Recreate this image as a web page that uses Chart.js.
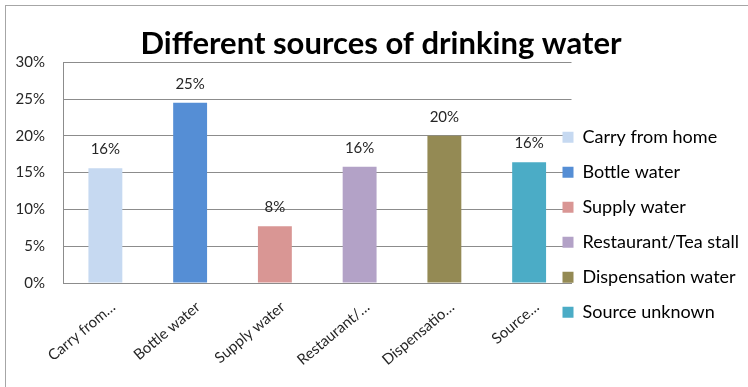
<!DOCTYPE html>
<html>
<head>
<meta charset="utf-8">
<script src="https://cdn.jsdelivr.net/npm/chart.js@4"></script>
<style>
  html, body { margin: 0; padding: 0; background: #fff; overflow: hidden; }
  #wrap { position: relative; width: 748px; height: 387px; overflow: hidden; }
  #frame { position: absolute; left: 5px; top: 5px; width: 800px; height: 400px; border: 1px solid #a6a6a6; }
  canvas { position: absolute; left: 0; top: 0; }
</style>
</head>
<body>
<div id="wrap">
  <div id="frame"></div>
  <canvas id="c" width="748" height="387"></canvas>
</div>
<script>
// Sources of drinking water, share of respondents (%)
const categories = ["Carry from home", "Bottle water", "Supply water", "Restaurant/Tea stall", "Dispensation water", "Source unknown"];
const tickLabels = ["Carry from\u2026", "Bottle water", "Supply water", "Restaurant/\u2026", "Dispensatio\u2026", "Source\u2026"];
const shares = [15.6, 24.5, 7.7, 15.8, 20.0, 16.4];
const barColors = ["#C6D9F1", "#558ED5", "#D99694", "#B3A2C7", "#948A54", "#4BACC6"];

Chart.defaults.font.family = "Lato, 'Open Sans', sans-serif";
Chart.defaults.color = "#262626";

// value labels above each bar
const valueLabels = {
  id: "valueLabels",
  afterDatasetsDraw(chart) {
    const ctx = chart.ctx;
    const meta = chart.getDatasetMeta(0);
    ctx.save();
    ctx.font = "15px Lato, 'Open Sans', sans-serif";
    ctx.fillStyle = "#262626";
    ctx.textAlign = "center";
    ctx.textBaseline = "middle";
    meta.data.forEach((bar, i) => {
      ctx.fillText(Math.round(shares[i]) + "%", bar.x, bar.y - 19);
    });
    ctx.restore();
  }
};

// legend keys overlap the plot's right edge a little; list starts lower down
const legendPlace = {
  id: "legendPlace",
  afterLayout(chart) {
    const lg = chart.legend;
    if (!lg) return;
    lg.left = chart.chartArea.right - 26;
    lg.top = chart.chartArea.top + 49;
  }
};

new Chart(document.getElementById("c"), {
  type: "bar",
  data: {
    labels: categories,
    datasets: [{
      data: shares,
      backgroundColor: barColors,
      borderWidth: 0,
      barPercentage: 0.8,
      categoryPercentage: 0.5
    }]
  },
  options: {
    responsive: false,
    animation: false,
    layout: { padding: { left: 0, top: 6, right: -14, bottom: 0 } },
    plugins: {
      title: {
        display: true,
        text: "Different sources of drinking water",
        color: "#000",
        font: { size: 31, weight: "bold" },
        padding: { top: 19, bottom: 0 }
      },
      legend: {
        position: "right",
        align: "start",
        onClick: null,
        labels: {
          boxWidth: 11,
          boxHeight: 11,
          padding: 17,
          font: { size: 18 },
          color: "#262626",
          generateLabels: (chart) => chart.data.labels.map((t, i) => ({
            text: t,
            fillStyle: barColors[i],
            strokeStyle: barColors[i],
            lineWidth: 0,
            hidden: false,
            index: i
          }))
        }
      },
      tooltip: { enabled: false }
    },
    scales: {
      x: {
        grid: { display: false, drawTicks: false },
        border: { display: true, color: "#8c8c8c", width: 1 },
        afterFit: (s) => { s.height = 104; s.paddingLeft = 0; s.paddingRight = 0; },
        ticks: {
          autoSkip: false,
          minRotation: 40,
          maxRotation: 40,
          padding: 15,
          labelOffset: 8,
          font: { size: 15 },
          color: "#262626",
          callback: (v, i) => tickLabels[i]
        }
      },
      y: {
        min: 0,
        max: 30,
        grid: { color: "#8c8c8c", drawTicks: false },
        border: { display: true, color: "#8c8c8c", width: 1 },
        afterFit: (s) => { s.width = 63; },
        ticks: {
          stepSize: 5,
          padding: 18,
          font: { size: 15 },
          color: "#262626",
          callback: (v) => v + "%"
        }
      }
    }
  },
  plugins: [valueLabels, legendPlace]
});
</script>
</body>
</html>
